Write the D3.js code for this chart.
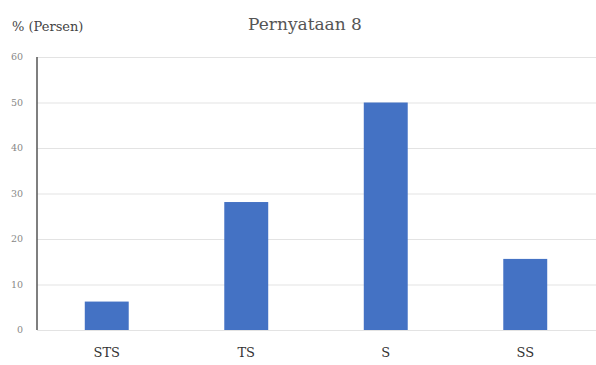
<!DOCTYPE html>
<html>
<head>
<meta charset="utf-8">
<script src="https://cdn.jsdelivr.net/npm/d3@7"></script>
<style>
  body { margin: 0; background: #fff; }
  svg { display: block; }
  text { font-family: 'DejaVu Serif', 'Liberation Serif', serif; }
</style>
</head>
<body>
<div id="chart"></div>
<script>
// Data
const categories = ['STS', 'TS', 'S', 'SS'];
const values = [6.25, 28.125, 50, 15.625];
const yTicks = [0, 10, 20, 30, 40, 50, 60];

const W = 596, H = 365;
const margin = { top: 57, right: 1, bottom: 35, left: 37 };

const svg = d3.select('#chart').append('svg')
    .attr('width', W)
    .attr('height', H);

const x = d3.scaleBand()
    .domain(categories)
    .range([margin.left, W - margin.right])
    .paddingInner(0.685)
    .paddingOuter(0.3425);

const y = d3.scaleLinear()
    .domain([0, 60])
    .range([H - margin.bottom, margin.top]);

// gridlines
svg.append('g')
    .selectAll('line')
    .data(yTicks)
    .enter()
    .append('line')
    .attr('x1', margin.left)
    .attr('x2', W)
    .attr('y1', d => y(d) + 0.5)
    .attr('y2', d => y(d) + 0.5)
    .attr('stroke', '#e3e3e3')
    .attr('stroke-width', 1);

// y tick labels
svg.append('g')
    .selectAll('text')
    .data(yTicks)
    .enter()
    .append('text')
    .attr('x', 23)
    .attr('y', d => y(d))
    .attr('dy', '0.35em')
    .attr('text-anchor', 'end')
    .attr('font-size', 9.5)
    .attr('fill', '#888')
    .text(d => d);

// bars
svg.selectAll('.bar')
    .data(values)
    .enter()
    .append('rect')
    .attr('class', 'bar')
    .attr('x', (d, i) => x(categories[i]))
    .attr('y', d => y(d))
    .attr('width', x.bandwidth())
    .attr('height', d => y(0) - y(d))
    .attr('fill', '#4472c4');

// y axis line
svg.append('line')
    .attr('x1', margin.left)
    .attr('x2', margin.left)
    .attr('y1', y(60))
    .attr('y2', y(0))
    .attr('stroke', '#555')
    .attr('stroke-width', 1.5);

// x labels
svg.append('g')
    .selectAll('text')
    .data(categories)
    .enter()
    .append('text')
    .attr('x', d => x(d) + x.bandwidth() / 2)
    .attr('y', 357)
    .attr('text-anchor', 'middle')
    .attr('font-size', 13)
    .attr('fill', '#333')
    .text(d => d);

// title and axis caption
svg.append('text')
    .attr('x', 305)
    .attr('y', 30)
    .attr('text-anchor', 'middle')
    .attr('font-size', 17)
    .attr('fill', '#555')
    .text('Pernyataan 8');

svg.append('text')
    .attr('x', 12)
    .attr('y', 31)
    .attr('font-size', 13)
    .attr('fill', '#444')
    .text('% (Persen)');
</script>
</body>
</html>
